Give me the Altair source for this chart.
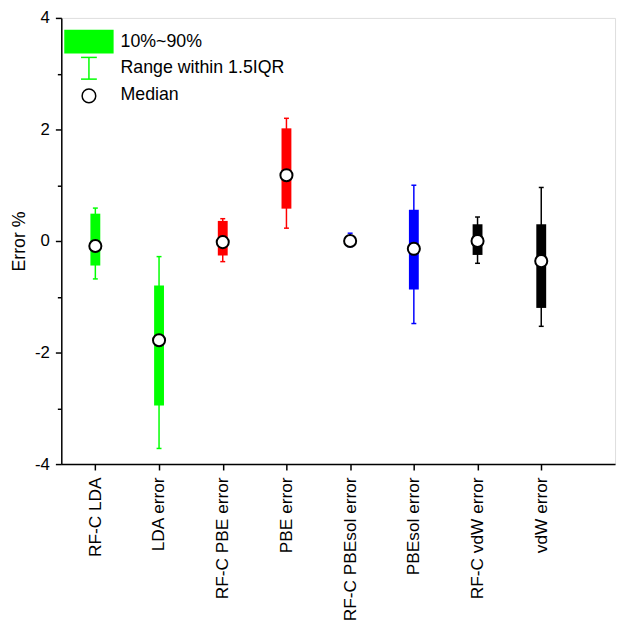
import altair as alt
import pandas as pd

categories = ["RF-C LDA", "LDA error", "RF-C PBE error", "PBE error",
              "RF-C PBEsol error", "PBEsol error", "RF-C vdW error", "vdW error"]
whisker_low = [-0.68, -3.72, -0.37, 0.23, -0.10, -1.48, -0.40, -1.53]
box_low = [-0.44, -2.95, -0.26, 0.58, -0.05, -0.87, -0.25, -1.20]
median = [-0.09, -1.78, -0.02, 1.18, 0.00, -0.14, 0.00, -0.36]
box_high = [0.49, -0.80, 0.36, 2.02, 0.08, 0.56, 0.30, 0.30]
whisker_high = [0.59, -0.28, 0.40, 2.20, 0.14, 1.00, 0.43, 0.96]
colors = ["#00ff00", "#00ff00", "#ff0000", "#ff0000",
          "#0000ff", "#0000ff", "#000000", "#000000"]

legend_labels = ["10%~90%", "Range within 1.5IQR", "Median"]

df = pd.DataFrame({
    "pos": list(range(1, len(categories) + 1)),
    "cat": categories,
    "wlo": whisker_low,
    "blo": box_low,
    "med": median,
    "bhi": box_high,
    "whi": whisker_high,
    "color": colors,
})

FONT = "Liberation Sans"
label_expr = "[" + ",".join(f"'{c}'" for c in categories) + "][datum.value - 1]"

x_enc = alt.X("pos:Q",
              scale=alt.Scale(domain=[0.543, 9.081], nice=False, zero=False),
              axis=alt.Axis(values=list(range(1, 9)), labelExpr=label_expr,
                            labelAngle=-90, labelAlign="right", labelBaseline="middle",
                            labelFont=FONT, labelFontSize=17.5, labelColor="black",
                            tickSize=6, tickColor="black", tickWidth=1.5,
                            domainColor="black", domainWidth=1.5,
                            labelPadding=7, grid=False, title=None))
y_scale = alt.Scale(domain=[-4, 4], nice=False)
y_axis = alt.Axis(values=[-4, -3, -2, -1, 0, 1, 2, 3, 4],
                  labelExpr="datum.value % 2 === 0 ? datum.value : ''",
                  tickSize={"condition": {"test": "datum.value % 2 === 0", "value": 6}, "value": 4},
                  tickColor="black", tickWidth=1.5, domainColor="black", domainWidth=1.5,
                  labelFont=FONT, labelFontSize=17, labelColor="black", labelPadding=6,
                  titleFont=FONT, titleFontSize=18, titleFontWeight="normal",
                  titleColor="black", titlePadding=6, grid=False, title="Error %")

base = alt.Chart(df)

whisk = base.mark_rule(strokeWidth=1.5).encode(
    x=x_enc,
    y=alt.Y("wlo:Q", scale=y_scale, axis=y_axis),
    y2="whi:Q",
    color=alt.Color("color:N", scale=None),
)
cap_lo = base.mark_point(shape="M-1,0L1,0", filled=False, strokeWidth=1.5, size=25, opacity=1).encode(
    x="pos:Q", y="wlo:Q", stroke=alt.Color("color:N", scale=None))
cap_hi = base.mark_point(shape="M-1,0L1,0", filled=False, strokeWidth=1.5, size=25, opacity=1).encode(
    x="pos:Q", y="whi:Q", stroke=alt.Color("color:N", scale=None))
box = base.mark_bar(width=10).encode(
    x="pos:Q", y="blo:Q", y2="bhi:Q", color=alt.Color("color:N", scale=None))
med = base.mark_point(shape="circle", filled=True, fill="white", stroke="black",
                      strokeWidth=2, size=150, opacity=1).encode(
    x="pos:Q", y="med:Q")

# Legend (drawn inside the plot, top-left)
leg_df = pd.DataFrame({"label": legend_labels})
leg_rect = alt.Chart(leg_df.iloc[[0]]).mark_rect(color="#00ff00").encode(
    x=alt.value(3), x2=alt.value(53), y=alt.value(12), y2=alt.value(36))
leg_bar = alt.Chart(leg_df.iloc[[1]]).mark_rule(color="#00ff00", strokeWidth=1.5).encode(
    x=alt.value(28), y=alt.value(40), y2=alt.value(62))
leg_cap1 = alt.Chart(leg_df.iloc[[1]]).mark_rule(color="#00ff00", strokeWidth=1.5).encode(
    x=alt.value(20), x2=alt.value(36), y=alt.value(40))
leg_cap2 = alt.Chart(leg_df.iloc[[1]]).mark_rule(color="#00ff00", strokeWidth=1.5).encode(
    x=alt.value(20), x2=alt.value(36), y=alt.value(62))
leg_circ = alt.Chart(leg_df.iloc[[2]]).mark_point(shape="circle", filled=False, stroke="black",
                                                 strokeWidth=1.5, size=190, opacity=1).encode(
    x=alt.value(28), y=alt.value(79))
leg_text = alt.Chart(leg_df).transform_window(idx="row_number()").transform_calculate(
    ty="datum.idx == 1 ? 24 : (datum.idx == 2 ? 51 : 78)"
).mark_text(align="left", baseline="middle", font=FONT, fontSize=18, color="black").encode(
    x=alt.value(60), y=alt.Y("ty:Q", scale=None), text="label:N")

chart = alt.layer(whisk, cap_lo, cap_hi, box, med,
                  leg_rect, leg_bar, leg_cap1, leg_cap2, leg_circ, leg_text).properties(
    width=561, height=452,
    autosize=alt.AutoSizeParams(type="none"),
    padding={"left": 54, "top": 6, "right": 3, "bottom": 160},
).configure_view(stroke="black", strokeWidth=1.5).configure(background="white")

chart.save("out.html", embed_options={"renderer": "svg", "actions": False})
